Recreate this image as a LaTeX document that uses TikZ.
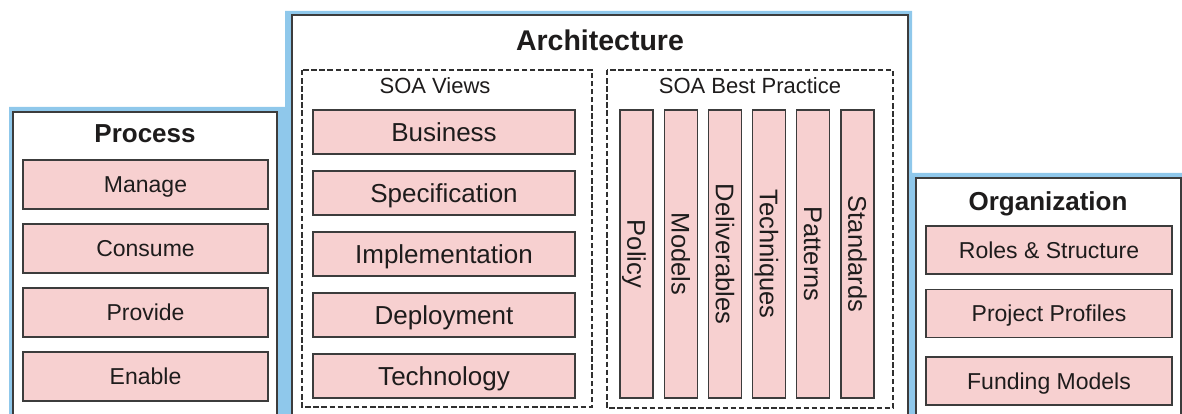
\documentclass[tikz,border=0pt]{standalone}
\usepackage{fontspec}
\setmainfont{Liberation Sans}
\definecolor{skyblue}{RGB}{143,200,235}
\definecolor{boxpink}{RGB}{247,208,208}
\definecolor{ink}{RGB}{30,28,28}
\definecolor{edge}{RGB}{60,60,60}
\tikzset{
  panel/.style={fill=white,draw=edge,line width=1.4pt},
  group/.style={draw=edge!80!black,line width=2.4pt,dash pattern=on 5.5pt off 2.6pt},
  title/.style={text=ink,inner sep=0pt,text height=18.6pt,text depth=0pt,
    font=\fontsize{26}{28}\selectfont\bfseries},
  subtitle/.style={text=ink,inner sep=0pt,text height=15.8pt,text depth=0pt,
    font=\fontsize{22}{24}\selectfont},
  item/.style={draw=edge,fill=boxpink,line width=1.3pt,text=ink,inner sep=0pt,
    text height=16.5pt,text depth=0pt,font=\fontsize{23}{25}\selectfont}
}

\begin{document}
\begin{tikzpicture}[x=1pt,y=-1pt]

        \useasboundingbox (0,0) rectangle (1182,414);
        \clip (0,0) rectangle (1182,414);

        % blue backdrop and the three panels
        \fill[skyblue] (9,430) -- (9,107) -- (285,107) -- (285,11) -- (912,11)
              -- (912,173) -- (1190,173) -- (1190,430) -- cycle;
        \draw[panel] (13,430) rectangle (277,112);
        \draw[panel] (292,430) rectangle (908,15);
        \draw[panel] (916,430) rectangle (1181,178);

        % Process
        \node[title] (process) at (145,133) {Process};
        \foreach \name/\txt [count=\i] in {manage/Manage,consume/Consume,provide/Provide,enable/Enable}
        \node[item,minimum width=245pt,minimum height=49pt] (\name) at (145.5,120.5+64*\i) {\txt};

        % Architecture
        \node[title,text height=20.4pt,font=\fontsize{28.5}{30}\selectfont\bfseries] (arch) at (600,40) {Architecture};

        \draw[group] (302,70) rectangle (592,407);
        \node[subtitle] (views) at (435,86) {SOA Views};
        \foreach \name/\txt [count=\i] in {business/Business,spec/Specification,impl/Implementation,deploy/Deployment,tech/Technology}
        \node[item,text height=18.6pt,font=\fontsize{26}{28}\selectfont,minimum width=262pt,minimum height=44pt] (\name) at (444,71+61*\i) {\txt};

        \draw[group] (607,70) rectangle (893,408);
        \node[subtitle] (practice) at (750,86) {SOA Best Practice};
        \foreach \name/\txt [count=\i] in {policy/Policy,models/Models,deliv/Deliverables,techn/Techniques,patterns/Patterns,standards/Standards}
        \node[item,rotate=-90,text height=18.3pt,font=\fontsize{25.5}{27}\selectfont,minimum width=288pt,minimum height=33pt] (\name) at (592.3+44.2*\i,254) {\txt};

        % Organization
        \node[title] (org) at (1048,201) {Organization};
        \foreach \name/\txt/\y in {roles/Roles \& Structure/250,profiles/Project Profiles/313.5,funding/Funding Models/381}
        \node[item,minimum width=246pt,minimum height=48pt] (\name) at (1049,\y) {\txt};

\end{tikzpicture}
\end{document}
